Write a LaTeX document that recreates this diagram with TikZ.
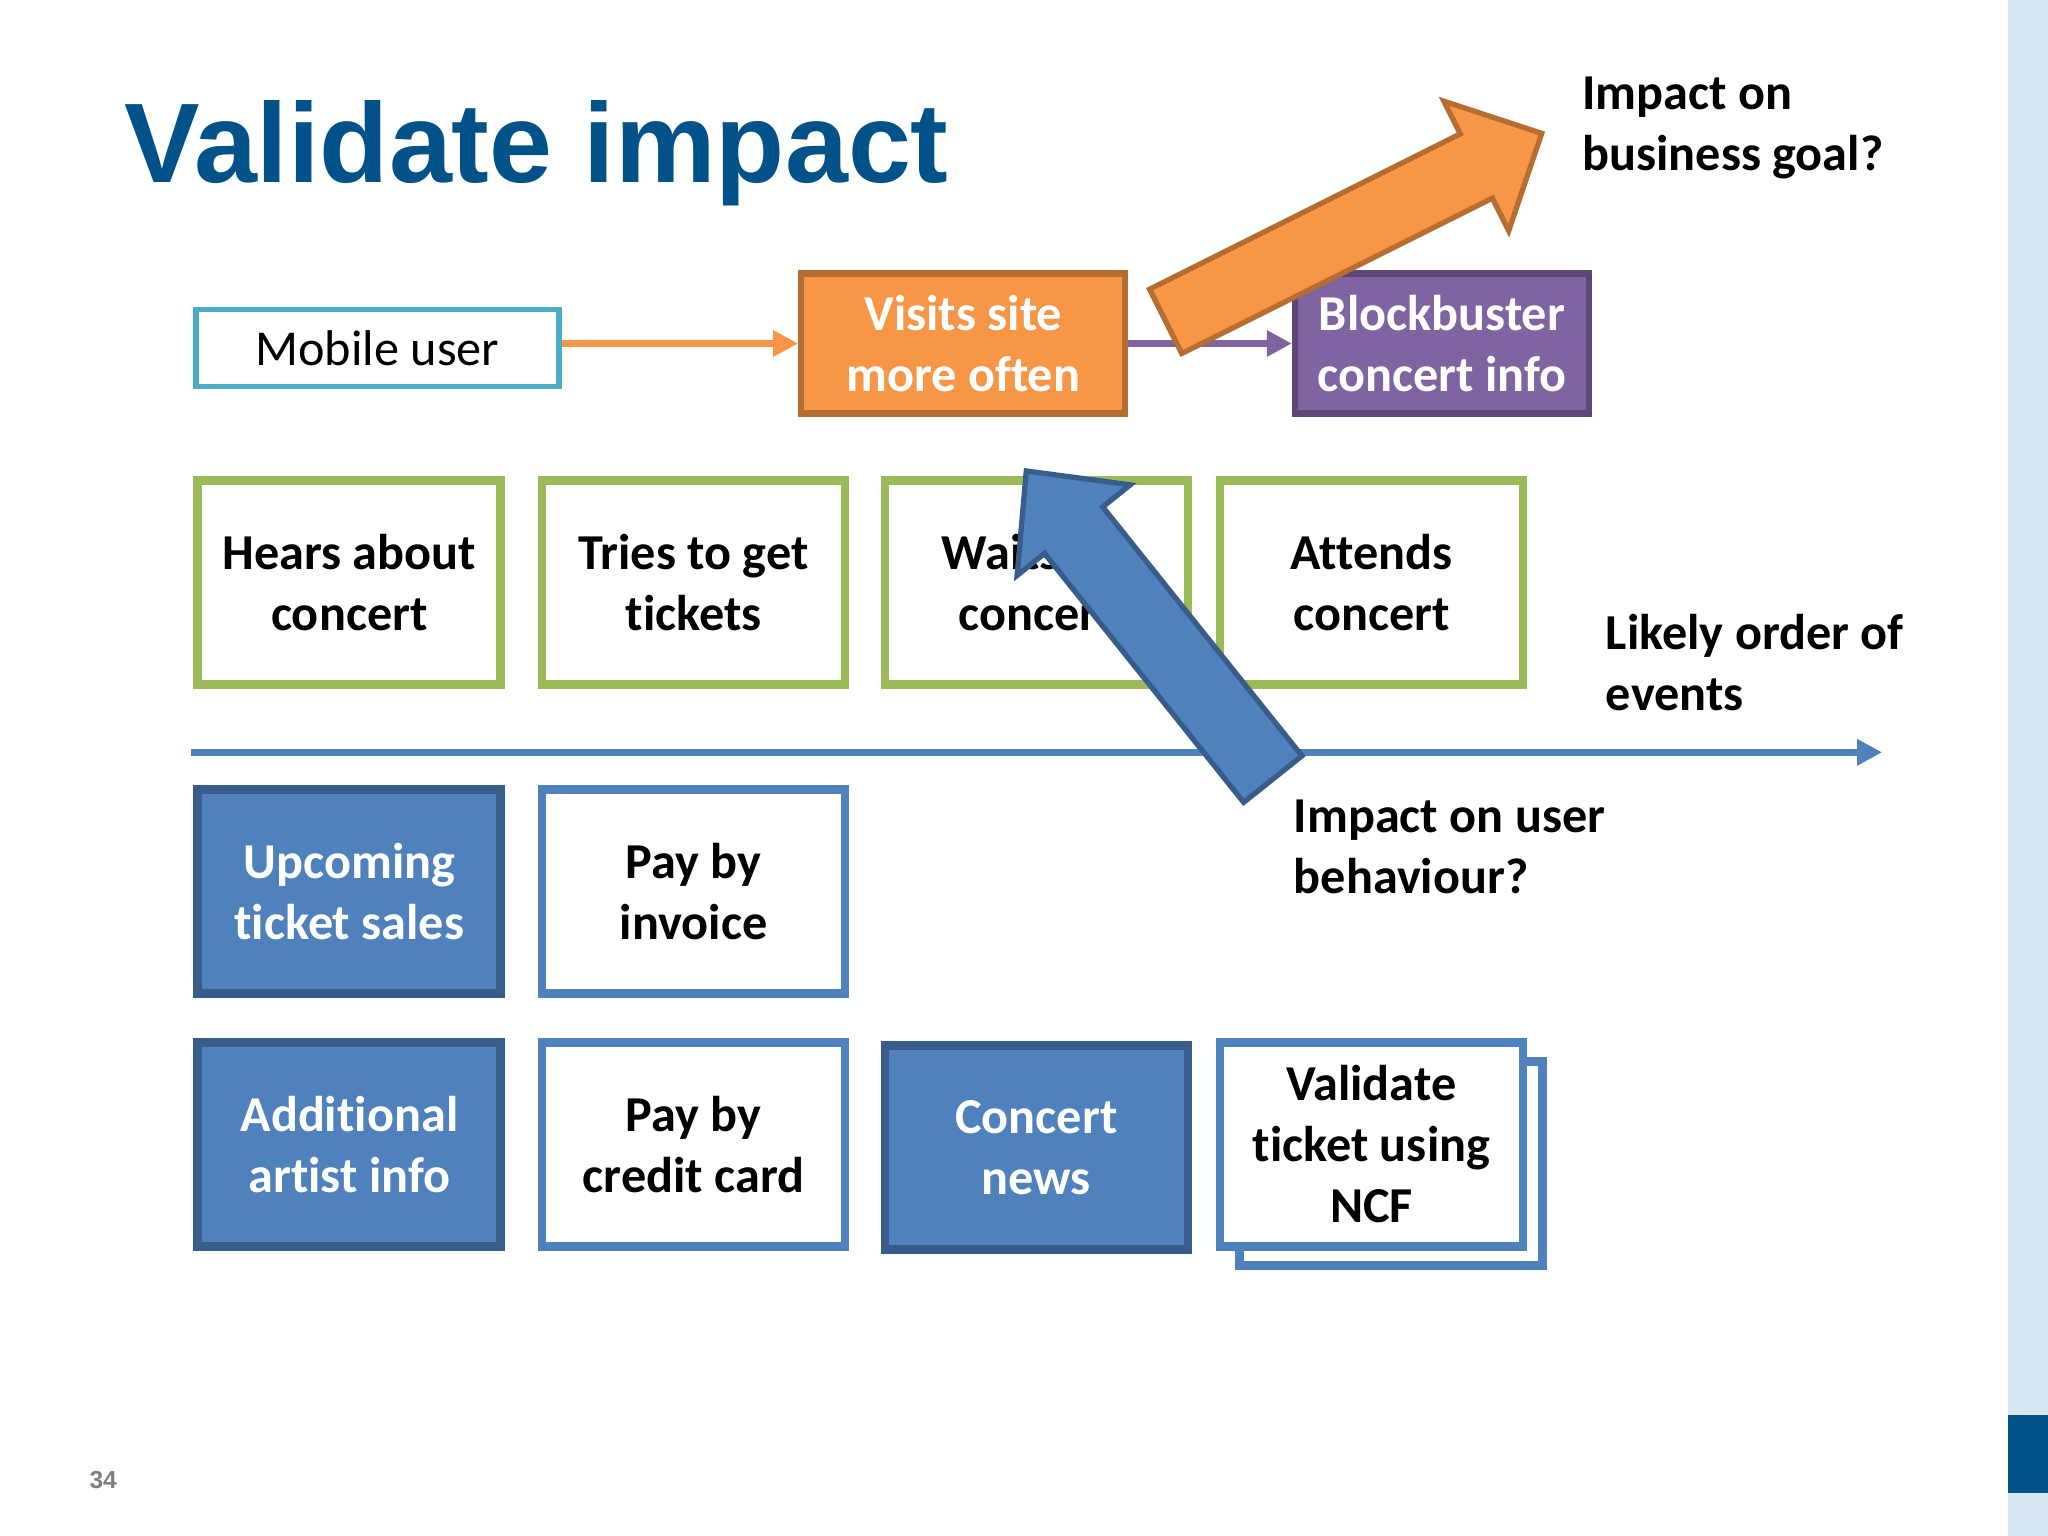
\documentclass[tikz,border=0pt]{standalone}
\usepackage{fontspec}
\setmainfont{Carlito}[Ligatures=NoCommon]
\newfontfamily\titlefont{Liberation Sans}
\usetikzlibrary{arrows.meta}

\definecolor{titleblue}{HTML}{005288}
\definecolor{stripblue}{HTML}{D7E7F2}
\definecolor{evgreen}{HTML}{9BBB59}
\definecolor{tileblue}{HTML}{4F81BD}
\definecolor{tiledark}{HTML}{385D8A}
\definecolor{userteal}{HTML}{4BACC6}
\definecolor{goalorange}{HTML}{F79646}
\definecolor{goaldark}{HTML}{B66D31}
\definecolor{infopurple}{HTML}{8064A2}
\definecolor{infodark}{HTML}{5C4776}
\definecolor{pagegray}{HTML}{7F7F7F}

\tikzset{
  txt/.style={font=\bfseries\fontsize{14.3}{17.4}\selectfont},
  box/.style={txt, draw, line width=2.5pt, minimum width=3.03cm, minimum height=2.04cm,
    align=center, inner sep=0pt},
  stepbox/.style={box, draw=evgreen, fill=white},
  tilebox/.style={box, draw=tileblue, fill=white},
  solidbox/.style={box, draw=tiledark, fill=tileblue, text=white},
  topbox/.style={txt, line width=1.8pt, minimum height=1.40cm, align=center, inner sep=0pt},
  note/.style={txt, anchor=north west, align=left, inner sep=0pt},
  link/.style={line width=2pt, -{Triangle[length=0.25cm,width=0.25cm]}},
  bigarrow/.style={line width=1.5pt, line join=miter}
}

\begin{document}
\begin{tikzpicture}[x=0.013061cm,y=-0.013061cm]
  \useasboundingbox (0,0) rectangle (1568,1176);
  \fill[white] (0,0) rectangle (1568,1176);
  % side strip
  \fill[stripblue] (1537,0) rectangle (1568,1176);
  \fill[titleblue] (1537,1083) rectangle (1568,1143);

  \node[anchor=base west, inner sep=0pt, text=titleblue,
    font=\titlefont\bfseries\fontsize{32.2}{38}\selectfont] (title) at (95,140) {Validate impact};

  % actor, impact, deliverable
  \node[draw=userteal, line width=1.5pt, minimum width=3.63cm, minimum height=0.77cm, inner sep=0pt,
    font=\fontsize{14.3}{17.4}\selectfont] (mob) at (289,266.5) {Mobile user};
  \node[topbox, draw=goaldark, fill=goalorange, text=white, minimum width=3.24cm] (vis) at (737.5,263) {Visits site\\more often};
  \node[topbox, draw=infodark, fill=infopurple, text=white, minimum width=2.94cm] (blk) at (1104,263) {Blockbuster\\concert info};
  \draw[link, goalorange] (mob.east |- vis.west) -- (vis.west);
  \draw[link, infopurple] (vis.east) -- (blk.west);

  % events
  \node[stepbox] (hears) at (267.5,446) {Hears about\\concert};
  \node[stepbox] (tries) at (531,446) {Tries to get\\tickets};
  \node[stepbox] (waits) at (793.5,446) {Waits for\\concert};
  \node[stepbox] (attends) at (1050,446) {Attends\\concert};

  % timeline
  \coordinate (tl0) at (146,576);
  \coordinate (tl1) at (1441,576);
  \draw[link, tileblue] (tl0) -- (tl1);

  % stories
  \node[solidbox] (upcoming) at (267.5,682.5) {Upcoming\\ticket sales};
  \node[tilebox] (invoice) at (531,682.5) {Pay by\\invoice};
  \node[solidbox] (artist) at (267.5,876.5) {Additional\\artist info};
  \node[tilebox] (credit) at (531,876.5) {Pay by\\credit card};
  \node[solidbox] (news) at (793.5,878.5) {Concert\\news};
  \node[tilebox] (ncfback) at (1065,891) {};
  \node[tilebox] (ncf) at (1050,876) {Validate\\ticket using\\NCF};

  % labels
  \node[note] (goal) at (1211,58) {Impact on\\business goal?};
  \node[note] (order) at (1229,470) {Likely order of\\events};
  \node[note] (behav) at (990,612) {Impact on user\\behaviour?};

  % block arrows
  \filldraw[bigarrow, draw=goaldark, fill=goalorange]
    (904.8,270.6) -- (1142.6,151.7) -- (1155.1,176.7) -- (1180.4,102.1)
    -- (1105.5,77.5) -- (1118,102.5) -- (880.2,221.4) -- cycle;
  \filldraw[bigarrow, draw=tiledark, fill=tileblue]
    (996.8,578.7) -- (844.3,388.1) -- (865.3,371.2) -- (785.75,360.6)
    -- (778.7,440.6) -- (799.7,423.7) -- (952.2,614.3) -- cycle;

  \node[anchor=base west, inner sep=0pt, text=pagegray,
    font=\titlefont\bfseries\fontsize{7}{8}\selectfont] (page) at (68,1140) {34};
\end{tikzpicture}
\end{document}
